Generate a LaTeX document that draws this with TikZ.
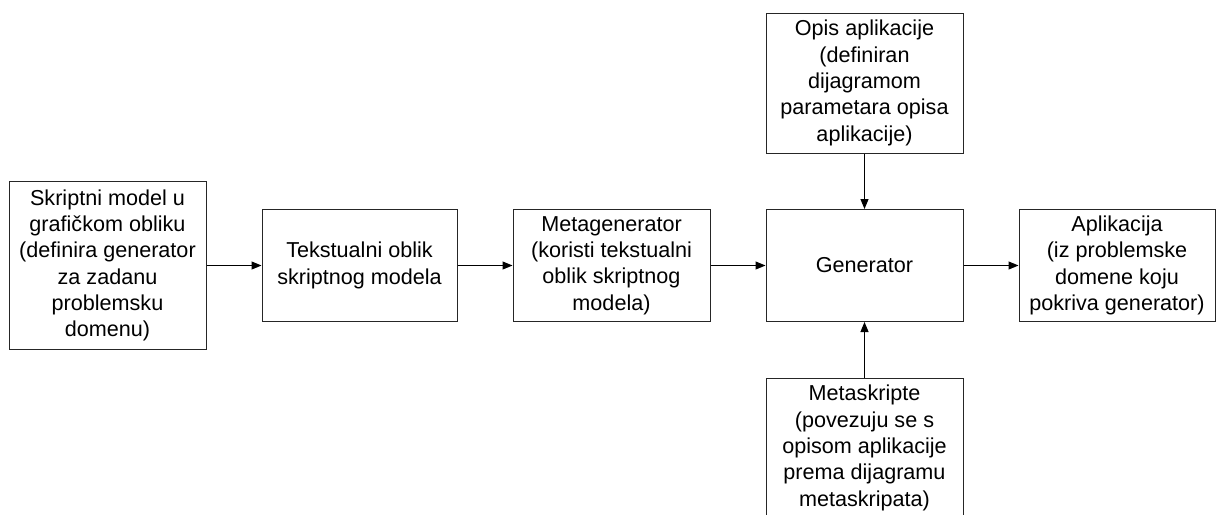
\documentclass[tikz,border=0pt]{standalone}
\usepackage{fontspec}
\setmainfont{Liberation Sans}
\usetikzlibrary{arrows.meta}
\tikzset{
  blk/.style={draw=black!85, line width=1pt, rectangle, inner sep=0pt, align=center,
    font=\fontsize{21.6}{26.3}\selectfont},
  conn/.style={draw=black, line width=1pt, -{Triangle[length=10pt,width=8pt]}},
}
\begin{document}
\begin{tikzpicture}[x=1pt,y=-1pt]
\useasboundingbox (0,0) rectangle (1217,514);
\node[blk, minimum width=197pt, minimum height=168pt] (b1) at (107.5,265.5)
  {Skriptni model u\\grafičkom obliku\\(definira generator\\za zadanu\\problemsku\\domenu)};
\node[blk, minimum width=195pt, minimum height=112pt] (b2) at (359.5,265.5)
  {Tekstualni oblik\\skriptnog modela};
\node[blk, minimum width=197pt, minimum height=112pt] (b3) at (611.5,265.5)
  {Metagenerator\\(koristi tekstualni\\oblik skriptnog\\modela)};
\node[blk, minimum width=197pt, minimum height=112pt] (b4) at (864.5,265.5)
  {Generator};
\node[blk, minimum width=196pt, minimum height=112pt] (b5) at (1117,265.5)
  {Aplikacija\\(iz problemske\\domene koju\\pokriva generator)};
\node[blk, minimum width=197pt, minimum height=140pt] (b6) at (864.5,83)
  {Opis aplikacije\\(definiran\\dijagramom\\parametara opisa\\aplikacije)};
\node[blk, minimum width=197pt, minimum height=140pt] (b7) at (864.5,448)
  {Metaskripte\\(povezuju se s\\opisom aplikacije\\prema dijagramu\\metaskripata)};
\draw[conn] (b1) -- (b2);
\draw[conn] (b2) -- (b3);
\draw[conn] (b3) -- (b4);
\draw[conn] (b4) -- (b5);
\draw[conn] (b6) -- (b4);
\draw[conn] (b7) -- (b4);
\end{tikzpicture}
\end{document}
